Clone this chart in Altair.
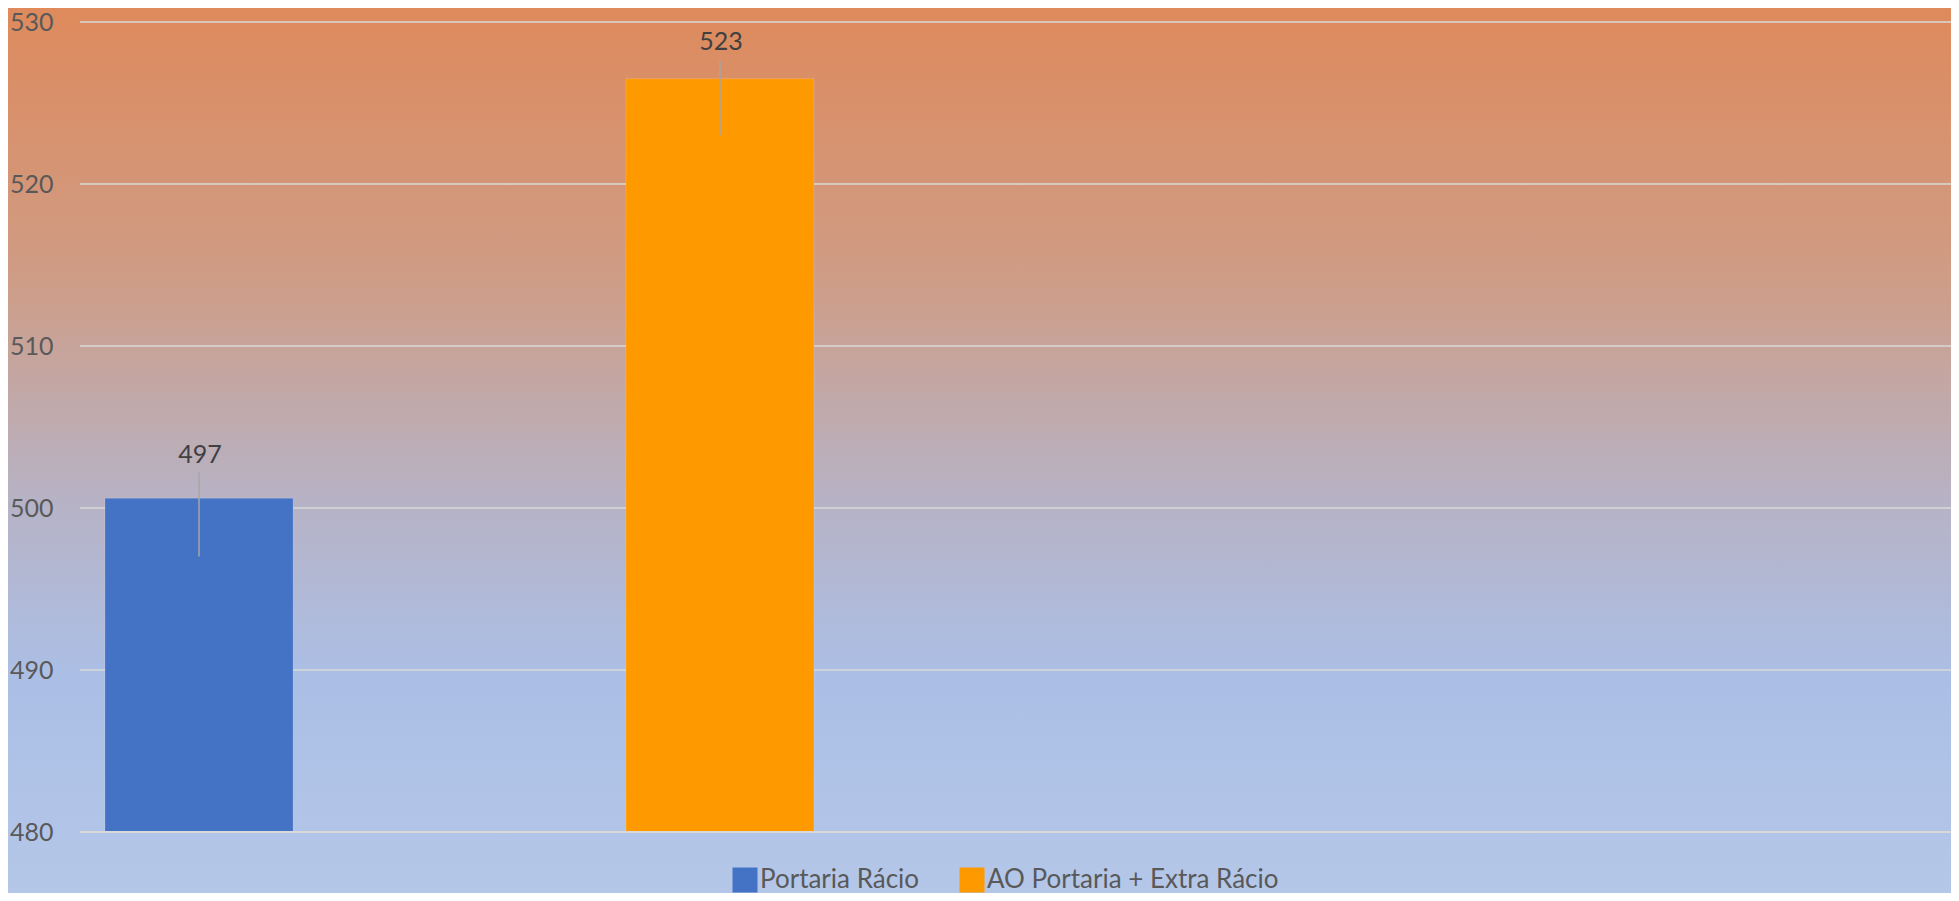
import altair as alt
import pandas as pd

categories = ["Portaria Rácio", "AO Portaria + Extra Rácio"]
bar_values = [500.6, 526.5]
label_texts = ["497", "523"]
label_values = [497, 523]
label_positions = [502.8, 528.3]
leader_tops = [502.2, 527.6]
colors = ["#4472C4", "#FF9900"]
y_ticks = [480, 490, 500, 510, 520, 530]

FONT = "Lato"
W, H = 1871, 810
PAD = {"left": 72, "top": 14, "right": 0, "bottom": 61}

bars_df = pd.DataFrame({
    "cat": categories,
    "value": bar_values,
    "label": label_texts,
    "label_value": label_values,
    "label_pos": label_positions,
    "leader_top": leader_tops,
})
grid_df = pd.DataFrame({"tick": y_ticks})
base_df = pd.DataFrame({"tick": [y_ticks[0]]})
bg_df = pd.DataFrame({"k": [0]})

yscale = alt.Scale(domain=[y_ticks[0], y_ticks[-1]], zero=False, nice=False)
xscale = alt.Scale(domain=categories, range=[0, 759], paddingInner=0.639, paddingOuter=0.048)

background = alt.Chart(bg_df).mark_rect(
    fill=alt.Gradient(
        gradient="linear", x1=0, y1=0, x2=0, y2=1,
        stops=[
            alt.GradientStop(offset=0, color="#DE8A5C"),
            alt.GradientStop(offset=0.3, color="#CF9C85"),
            alt.GradientStop(offset=0.55, color="#B7B2C4"),
            alt.GradientStop(offset=0.76, color="#ABBFE6"),
            alt.GradientStop(offset=1, color="#B4C7E8"),
        ],
    ),
    strokeWidth=0,
).encode(
    x=alt.value(-PAD["left"]), x2=alt.value(W + PAD["right"]),
    y=alt.value(-PAD["top"]), y2=alt.value(H + PAD["bottom"]),
)

grid = alt.Chart(grid_df).mark_rule(color="#D9D9D9", strokeWidth=1.5).encode(
    y=alt.Y("tick:Q", scale=yscale,
            axis=alt.Axis(values=y_ticks, title=None, labelFont=FONT, labelFontSize=25,
                          labelColor="#595959", labelPadding=27, ticks=False,
                          domain=False, grid=False, format="d", zindex=2)),
)

bars = alt.Chart(bars_df).mark_bar(stroke="#FFFFFF", strokeOpacity=0.15, strokeWidth=1).encode(
    x=alt.X("cat:N", scale=xscale, axis=None, sort=categories),
    y=alt.Y("value:Q", scale=yscale),
    y2=alt.datum(y_ticks[0]),
    color=alt.Color("cat:N", sort=categories,
                    scale=alt.Scale(domain=categories, range=colors),
                    legend=alt.Legend(title=None, orient="none", direction="horizontal",
                                      legendX=652, legendY=845, zindex=2,
                                      symbolType="square", symbolSize=625,
                                      symbolStrokeWidth=0, symbolOffset=0,
                                      labelFont=FONT, labelFontSize=26, labelColor="#595959",
                                      labelLimit=0, labelOffset=2, columnPadding=39, padding=0)),
)

baseline = alt.Chart(base_df).mark_rule(color="#D9D9D9", strokeWidth=2).encode(
    y=alt.Y("tick:Q", scale=yscale),
)

leaders = alt.Chart(bars_df).mark_rule(color="#A6A6A6", strokeWidth=1.5).encode(
    x=alt.X("cat:N", scale=xscale, sort=categories),
    y=alt.Y("label_value:Q", scale=yscale),
    y2="leader_top:Q",
)

labels = alt.Chart(bars_df).mark_text(
    font=FONT, fontSize=25, color="#404040", baseline="alphabetic", align="center", dx=1,
).encode(
    x=alt.X("cat:N", scale=xscale, sort=categories),
    y=alt.Y("label_pos:Q", scale=yscale),
    text="label:N",
)

chart = alt.layer(background, grid, bars, baseline, leaders, labels).properties(
    width=W, height=H, padding=PAD,
    autosize=alt.AutoSizeParams(type="none"),
    background="#B4C7E8",
).configure_view(strokeWidth=0)

chart.save("out.html", embed_options={"renderer": "svg", "actions": False})
